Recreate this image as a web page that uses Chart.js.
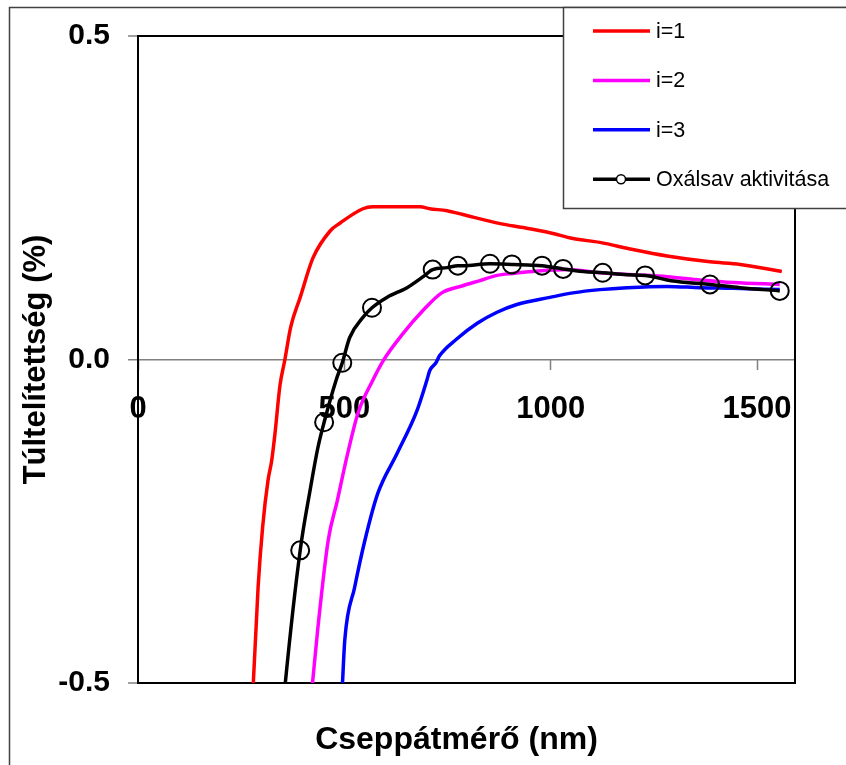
<!DOCTYPE html>
<html>
<head>
<meta charset="utf-8">
<script src="https://cdn.jsdelivr.net/npm/chart.js@4.4.1/dist/chart.umd.min.js"></script>
<style>
body{margin:0;background:#fff;}
canvas{display:block;}
</style>
</head>
<body>
<canvas id="grafico" width="846" height="765"></canvas>
<script>
/* DADOS */
const i1X = [274, 279, 291, 302, 315, 324, 332, 344, 356, 370, 393, 424, 466, 490, 545, 569, 684, 707, 749, 787, 878, 933, 998, 1054, 1119, 1199, 1282, 1386, 1459, 1560];
const i1Y = [-0.58, -0.506, -0.352, -0.259, -0.187, -0.156, -0.114, -0.04, 0.0, 0.05, 0.096, 0.157, 0.199, 0.211, 0.233, 0.236, 0.236, 0.233, 0.230, 0.224, 0.210, 0.204, 0.196, 0.187, 0.181, 0.170, 0.160, 0.151, 0.147, 0.136];

const i2X = [414, 422, 436, 461, 483, 506, 533, 569, 594, 642, 691, 736, 787, 829, 870, 908, 957, 1040, 1119, 1199, 1282, 1362, 1442, 1555];
const i2Y = [-0.557, -0.506, -0.414, -0.279, -0.218, -0.151, -0.083, -0.032, -0.002, 0.040, 0.076, 0.103, 0.114, 0.122, 0.130, 0.133, 0.136, 0.139, 0.134, 0.131, 0.128, 0.123, 0.119, 0.116];

const i3X = [490, 495, 501, 525, 550, 581, 628, 676, 700, 707, 722, 731, 773, 822, 870, 918, 998, 1054, 1119, 1185, 1282, 1362, 1442, 1555];
const i3Y = [-0.557, -0.506, -0.434, -0.352, -0.279, -0.207, -0.145, -0.079, -0.032, -0.017, -0.005, 0.006, 0.032, 0.056, 0.073, 0.085, 0.096, 0.103, 0.108, 0.111, 0.113, 0.111, 0.110, 0.108];

const oxX = [349, 356, 393, 417, 436, 451, 480, 495, 513, 545, 567, 603, 652, 691, 714, 749, 775, 787, 853, 906, 979, 1030, 1079, 1126, 1185, 1229, 1282, 1330, 1386, 1459, 1555];
const oxY = [-0.557, -0.506, -0.295, -0.202, -0.136, -0.097, -0.032, -0.005, 0.034, 0.065, 0.080, 0.096, 0.111, 0.128, 0.139, 0.142, 0.145, 0.145, 0.148, 0.147, 0.145, 0.140, 0.136, 0.134, 0.131, 0.130, 0.123, 0.119, 0.116, 0.111, 0.106];

// pontos com marcador
const oxMarkX = [393, 451, 495, 567, 714, 775, 853, 906, 979, 1030, 1126, 1229, 1386, 1555];
const oxMarkY = [-0.295, -0.097, -0.005, 0.080, 0.139, 0.145, 0.148, 0.147, 0.145, 0.140, 0.134, 0.130, 0.116, 0.106];

const xTicks = [0, 500, 1000, 1500];
const yTicks = [-0.5, 0, 0.5];

const pares = (xs, ys) => xs.map((x, k) => ({x: x, y: ys[k]}));
const fonte = '"Liberation Sans", Arial, sans-serif';

/* MOLDURA E LEGENDA */
const moldura = {
id:'moldura',
afterLayout(chart){
    // título do eixo x um pouco à esquerda, como no original
    const s = chart.scales.x2;
    s.left -= 10;
    s.right -= 10;
},
beforeDraw(chart){
    const c = chart.ctx;
    c.save();
    c.fillStyle = '#fff';
    c.fillRect(0, 0, chart.width, chart.height);
    c.strokeStyle = '#404040';
    c.lineWidth = 1.5;
    c.strokeRect(9.5, 7.5, chart.width + 20, chart.height + 20);
    c.restore();
},
beforeDatasetsDraw(chart){
    const a = chart.chartArea;
    const c = chart.ctx;
    c.save();
    c.strokeStyle = '#000';
    c.lineWidth = 2;
    c.strokeRect(a.left, a.top, a.right - a.left, a.bottom - a.top);
    c.restore();
},
afterDraw(chart){
    const c = chart.ctx;
    c.save();
    c.fillStyle = '#fff';
    c.fillRect(563, 7, chart.width, 202);
    c.strokeStyle = '#404040';
    c.lineWidth = 1.5;
    c.strokeRect(563.5, 7.5, chart.width, 201);
    c.font = '21.5px ' + fonte;
    c.textBaseline = 'middle';
    chart.data.datasets.filter(d => !d.soMarcador).forEach((d, k) => {
        const y = 31 + k * 49.4;
        c.strokeStyle = d.borderColor;
        c.lineWidth = 3.5;
        c.beginPath();
        c.moveTo(593, y);
        c.lineTo(650, y);
        c.stroke();
        if(d.label === 'Oxálsav aktivitása'){
            c.fillStyle = '#fff';
            c.lineWidth = 1.5;
            c.beginPath();
            c.arc(621, y, 4.5, 0, Math.PI * 2);
            c.fill();
            c.stroke();
        }
        c.fillStyle = '#000';
        c.fillText(d.label, 656, y + 1);
    });
    c.restore();
}
};

/* GRÁFICO */
new Chart(document.getElementById('grafico'), {
type:'line',
plugins:[moldura],
data:{
    datasets:[
        {label:'i=1', data:pares(i1X, i1Y), borderColor:'#FF0000', order:3},
        {label:'i=2', data:pares(i2X, i2Y), borderColor:'#FF00FF', order:2},
        {label:'i=3', data:pares(i3X, i3Y), borderColor:'#0000FF', order:1},
        {label:'Oxálsav aktivitása', data:pares(oxX, oxY), borderColor:'#000000', order:0},
        {label:'Oxálsav aktivitása', soMarcador:true, data:pares(oxMarkX, oxMarkY), borderColor:'#000000',
         showLine:false, pointRadius:9, pointBorderWidth:2, pointBackgroundColor:'rgba(0,0,0,0)', order:-1}
    ]
},
options:{
    responsive:false,
    animation:false,
    devicePixelRatio:1,
    layout:{padding:{left:10, top:35, right:51, bottom:0}},
    elements:{
        line:{borderWidth:3.5, cubicInterpolationMode:'monotone', fill:false},
        point:{radius:0, hoverRadius:0}
    },
    plugins:{legend:{display:false}, tooltip:{enabled:false}},
    scales:{
        x:{
            type:'linear', min:0, max:1592, position:{y:0},
            afterBuildTicks: s => { s.ticks = xTicks.map(v => ({value:v})); },
            ticks:{padding:21, color:'#000', maxRotation:0, autoSkip:false, callback: v => String(v),
                font:{family:fonte, size:31, weight:'bold'}},
            grid:{drawOnChartArea:false, tickLength:10, tickColor:'#808080', tickWidth:1.5},
            border:{display:false}
        },
        x2:{
            type:'linear', min:0, max:1592, position:'bottom',
            ticks:{display:false}, grid:{display:false}, border:{display:false},
            title:{display:true, text:'Cseppátmérő (nm)', color:'#000',
                font:{family:fonte, size:32, weight:'bold'}, padding:{top:6, bottom:6}},
            afterFit: s => { s.height = 82; }
        },
        y:{
            min:-0.5, max:0.5, position:'left',
            afterBuildTicks: s => { s.ticks = yTicks.map(v => ({value:v})); },
            ticks:{padding:18, color:'#000', callback: v => v.toFixed(1),
                font:{family:fonte, size:30, weight:'bold'}},
            grid:{
                color: c => c.tick && c.tick.value === 0 ? '#808080' : '#000',
                lineWidth: c => c.tick && c.tick.value === 0 ? 1.5 : 2,
                tickLength:10, tickColor:'#808080', tickWidth:1.5
            },
            border:{color:'#000', width:2},
            title:{display:true, text:'Túltelítettség (%)', color:'#000',
                font:{family:fonte, size:31, weight:'bold'}, padding:{top:8, bottom:8}},
            afterFit: s => { s.width = 128; }
        }
    }
}
});
</script>
</body>
</html>
